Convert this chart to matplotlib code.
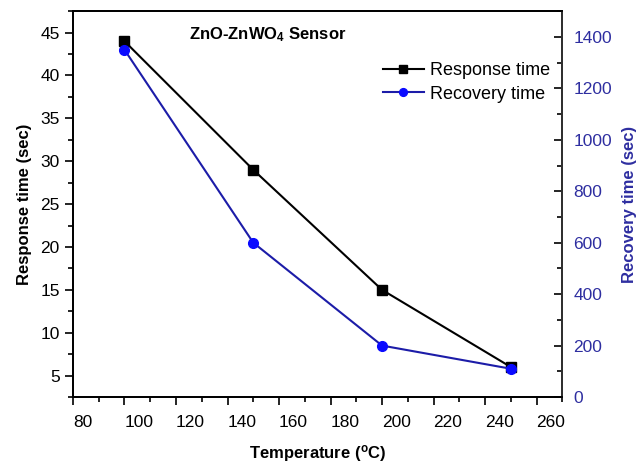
import matplotlib
matplotlib.use("Agg")
import matplotlib.pyplot as plt
from matplotlib.ticker import MultipleLocator

plt.rcParams['font.family'] = ['Liberation Sans', 'DejaVu Sans']

# data
temperature = [100, 150, 200, 250]
response_time = [44, 29, 15, 6]
recovery_time = [1350, 600, 200, 110]

blue_line = '#1c1ca8'
blue_mark = '#0a0aff'
blue_text = '#2e2ea0'

fig = plt.figure(figsize=(6.38, 4.66), dpi=100)
ax1 = fig.add_axes([0.1144, 0.148, 0.767, 0.828])
ax2 = ax1.twinx()

l1, = ax1.plot(temperature, response_time, color='black', marker='s', markersize=7,
               linewidth=1.5, label='Response time')
l2, = ax2.plot(temperature, recovery_time, color=blue_line, marker='o', markersize=7,
               markerfacecolor=blue_mark, markeredgecolor=blue_mark, linewidth=1.5,
               label='Recovery time')

ax1.set_xlim(80, 270)
ax1.set_ylim(2.5, 47.5)
ax2.set_ylim(0, 1500)

ax1.xaxis.set_major_locator(MultipleLocator(20))
ax1.xaxis.set_minor_locator(MultipleLocator(10))
ax1.yaxis.set_major_locator(MultipleLocator(5))
ax1.yaxis.set_minor_locator(MultipleLocator(2.5))
ax2.yaxis.set_major_locator(MultipleLocator(200))
ax2.yaxis.set_minor_locator(MultipleLocator(100))

ax1.tick_params(axis='both', which='major', direction='out', length=6, width=1.2,
                labelsize=12.5, top=False)
ax1.tick_params(axis='x', which='major', pad=7)
ax1.tick_params(axis='both', which='minor', direction='out', length=3.5, width=1.2, top=False)
ax2.tick_params(axis='y', which='major', direction='in', length=6, width=1.2,
                labelsize=12.5, labelcolor=blue_text, pad=8)
ax2.tick_params(axis='y', which='minor', direction='in', length=3.5, width=1.2)

for lab in ax1.get_xticklabels():
    lab.set_horizontalalignment('left')

for sp in ax1.spines.values():
    sp.set_linewidth(1.3)
for sp in ax2.spines.values():
    sp.set_linewidth(1.3)
ax2.spines['right'].set_color('#333333')

ax1.set_xlabel('Temperature ($\\mathregular{^{o}}$C)', fontsize=12, fontweight='bold', labelpad=9)
ax1.set_ylabel('Response time (sec)', fontsize=12, fontweight='bold', labelpad=6)
ax2.set_ylabel('Recovery time (sec)', fontsize=12, fontweight='bold', color=blue_text, labelpad=7)

ax1.text(0.238, 0.94, 'ZnO-ZnWO$\\mathregular{_4}$ Sensor', transform=ax1.transAxes,
         fontsize=12, fontweight='bold', va='center', ha='left')

ax1.legend(handles=[l1, l2], loc='upper right', bbox_to_anchor=(1.0, 0.90), frameon=False,
           fontsize=13, handlelength=2.3, handletextpad=0.3, borderaxespad=0.3,
           labelspacing=0.35, markerscale=0.8)

fig.savefig('out.png', dpi=100)
